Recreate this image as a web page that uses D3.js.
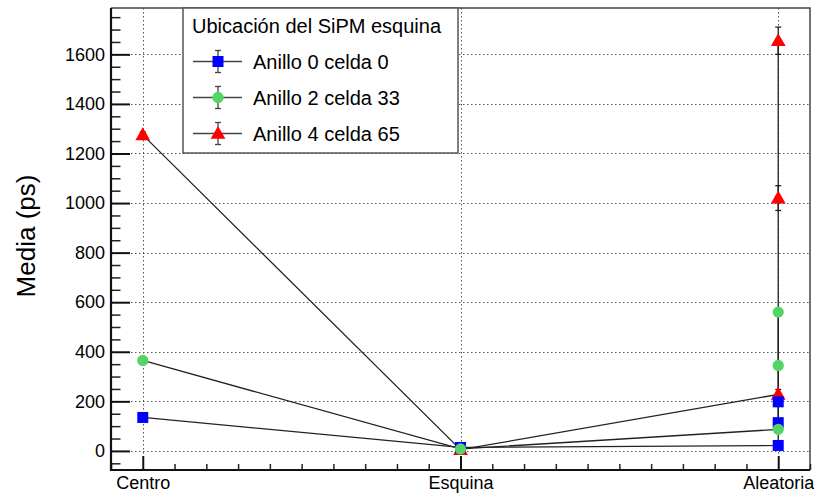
<!DOCTYPE html>
<html><head><meta charset="utf-8">
<script src="https://cdn.jsdelivr.net/npm/d3@7"></script>
<style>
body{margin:0;background:#fff;}
text{font-family:"Liberation Sans",Arial,Helvetica,sans-serif;fill:#000;}
</style></head>
<body><svg id="c" width="814" height="497"></svg>
<script>
// ---- data ----
const categories = ["Centro", "Esquina", "Aleatoria"];
const legendTitle = "Ubicación del SiPM esquina";
const seriesNames = ["Anillo 0 celda 0", "Anillo 2 celda 33", "Anillo 4 celda 65"];
const yTicks = [0, 200, 400, 600, 800, 1000, 1200, 1400, 1600];

const anillo0X = [0, 1, 2, 2, 2];
const anillo0Y = [135, 14, 22, 114, 198];
const anillo0Err = [10, 5, 12, 12, 12];

const anillo2X = [0, 1, 2, 2, 2];
const anillo2Y = [365, 8, 87, 345, 560];
const anillo2Err = [10, 5, 12, 15, 15];

const anillo4X = [0, 1, 2, 2, 2];
const anillo4Y = [1275, 5, 228, 1020, 1655];
const anillo4Err = [12, 5, 20, 50, 55];

const colors = ["#0000ff", "#55d466", "#ff0000"];
const shapes = [d3.symbolSquare, d3.symbolCircle, d3.symbolTriangle];
const shapeSizes = [121, 100, 95];

const series = [
  {name: seriesNames[0], x: anillo0X, y: anillo0Y, e: anillo0Err, color: colors[0], shape: shapes[0], size: shapeSizes[0]},
  {name: seriesNames[1], x: anillo2X, y: anillo2Y, e: anillo2Err, color: colors[1], shape: shapes[1], size: shapeSizes[1]},
  {name: seriesNames[2], x: anillo4X, y: anillo4Y, e: anillo4Err, color: colors[2], shape: shapes[2], size: shapeSizes[2]}
];

// ---- layout ----
const svg = d3.select("#c");
const L = 111, R = 810, T = 8, B = 470;
const x = d3.scaleLinear().domain([-0.1, 2.1]).range([L, R]);
const y = d3.scaleLinear().domain([-77, 1787]).range([B, T]);

// grid
const grid = svg.append("g").attr("stroke", "#555").attr("stroke-width", 1).attr("stroke-dasharray", "1.5,2.5");
grid.selectAll("line.h").data(yTicks).join("line")
  .attr("x1", L).attr("x2", R).attr("y1", d => Math.round(y(d)) + 0.5).attr("y2", d => Math.round(y(d)) + 0.5);
grid.selectAll("line.v").data(categories.map((c, i) => i)).join("line")
  .attr("y1", T).attr("y2", B).attr("x1", d => Math.round(x(d)) + 0.5).attr("x2", d => Math.round(x(d)) + 0.5);

// frame top/right
svg.append("path").attr("d", `M${L},${T}H${R}V${B}`).attr("fill", "none").attr("stroke", "#444").attr("stroke-width", 1.5);

// minor ticks y
const yMinor = d3.range(-50, 1787, 50).filter(v => v % 200 !== 0);
svg.append("g").attr("transform", `translate(${L},0)`)
  .call(d3.axisLeft(y).tickValues(yMinor).tickSize(-9.5).tickFormat(""))
  .call(g => g.select(".domain").remove())
  .selectAll("line").attr("stroke", "#222").attr("stroke-width", 1.5);
// major ticks y
const yAx = svg.append("g").attr("transform", `translate(${L},0)`)
  .call(d3.axisLeft(y).tickValues(yTicks).tickSize(-19).tickPadding(6).tickFormat(d3.format("d")));
yAx.select(".domain").remove();
yAx.selectAll("line").attr("stroke", "#111").attr("stroke-width", 2);
yAx.selectAll("text").attr("font-size", 18).attr("font-family", "Liberation Sans, Arial, sans-serif");

// x minor ticks
const xMinor = d3.range(-1, 22).map(v => v / 10).filter(v => Math.abs(v * 10 % 10) > 0.01);
svg.append("g").attr("transform", `translate(0,${B})`)
  .call(d3.axisBottom(x).tickValues(xMinor).tickSize(-6).tickFormat(""))
  .call(g => g.select(".domain").remove())
  .selectAll("line").attr("stroke", "#222").attr("stroke-width", 1.5);
const xAx = svg.append("g").attr("transform", `translate(0,${B})`)
  .call(d3.axisBottom(x).tickValues([0, 1, 2]).tickSize(-14).tickPadding(6).tickFormat(i => categories[i]));
xAx.select(".domain").remove();
xAx.selectAll("line").attr("stroke", "#111").attr("stroke-width", 2);
xAx.selectAll("text").attr("font-size", 18).attr("font-family", "Liberation Sans, Arial, sans-serif");

// axis lines
svg.append("path").attr("d", `M${L},${T}V${B}H${R}`).attr("fill", "none").attr("stroke", "#111").attr("stroke-width", 2.2);

// y label
svg.append("text").attr("transform", "translate(35,236) rotate(-90)")
  .attr("text-anchor", "middle").attr("font-size", 26).text("Media (ps)");

// lines and error bars
const plot = svg.append("g");
const lineGen = d3.line().x(d => x(d[0])).y(d => y(d[1]));
series.forEach(s => {
  const pts = s.x.map((xv, i) => [xv, s.y[i]]);
  plot.append("path").attr("d", lineGen(pts)).attr("fill", "none").attr("stroke", "#222").attr("stroke-width", 1.3);
  const eb = plot.append("g").attr("stroke", "#222").attr("stroke-width", 1.3);
  s.x.forEach((xv, i) => {
    const cx = x(xv), y1 = y(s.y[i] + s.e[i]), y2 = y(s.y[i] - s.e[i]);
    eb.append("line").attr("x1", cx).attr("x2", cx).attr("y1", y1).attr("y2", y2);
    eb.append("line").attr("x1", cx - 3).attr("x2", cx + 3).attr("y1", y1).attr("y2", y1);
    eb.append("line").attr("x1", cx - 3).attr("x2", cx + 3).attr("y1", y2).attr("y2", y2);
  });
});
// markers: red, blue, green order
[2, 0, 1].forEach(k => {
  const s = series[k];
  const sym = d3.symbol().type(s.shape).size(s.size);
  plot.append("g").selectAll("path").data(s.x.map((xv, i) => [xv, s.y[i]])).join("path")
    .attr("d", sym)
    .attr("transform", d => `translate(${x(d[0])},${y(d[1]) + (k === 2 ? 1 : 0)})`)
    .attr("fill", s.color);
});

// legend
const lg = svg.append("g");
lg.append("rect").attr("x", 183).attr("y", 8).attr("width", 275).attr("height", 145)
  .attr("fill", "#fff").attr("stroke", "#555").attr("stroke-width", 1.5);
lg.append("text").attr("x", 192).attr("y", 33).attr("font-size", 20).text(legendTitle);
series.forEach((s, i) => {
  const cy = 61.5 + i * 36;
  lg.append("line").attr("x1", 193).attr("x2", 242).attr("y1", cy).attr("y2", cy).attr("stroke", "#444").attr("stroke-width", 1.3);
  lg.append("line").attr("x1", 218).attr("x2", 218).attr("y1", cy - 11).attr("y2", cy + 11).attr("stroke", "#444").attr("stroke-width", 1.3);
  lg.append("line").attr("x1", 215).attr("x2", 221).attr("y1", cy - 11).attr("y2", cy - 11).attr("stroke", "#444").attr("stroke-width", 1.3);
  lg.append("line").attr("x1", 215).attr("x2", 221).attr("y1", cy + 11).attr("y2", cy + 11).attr("stroke", "#444").attr("stroke-width", 1.3);
  lg.append("path").attr("d", d3.symbol().type(s.shape).size(s.size)())
    .attr("transform", `translate(218,${cy + (i === 2 ? 1 : 0)})`).attr("fill", s.color);
  lg.append("text").attr("x", 253).attr("y", cy + 7).attr("font-size", 20).text(s.name);
});
</script></body></html>
